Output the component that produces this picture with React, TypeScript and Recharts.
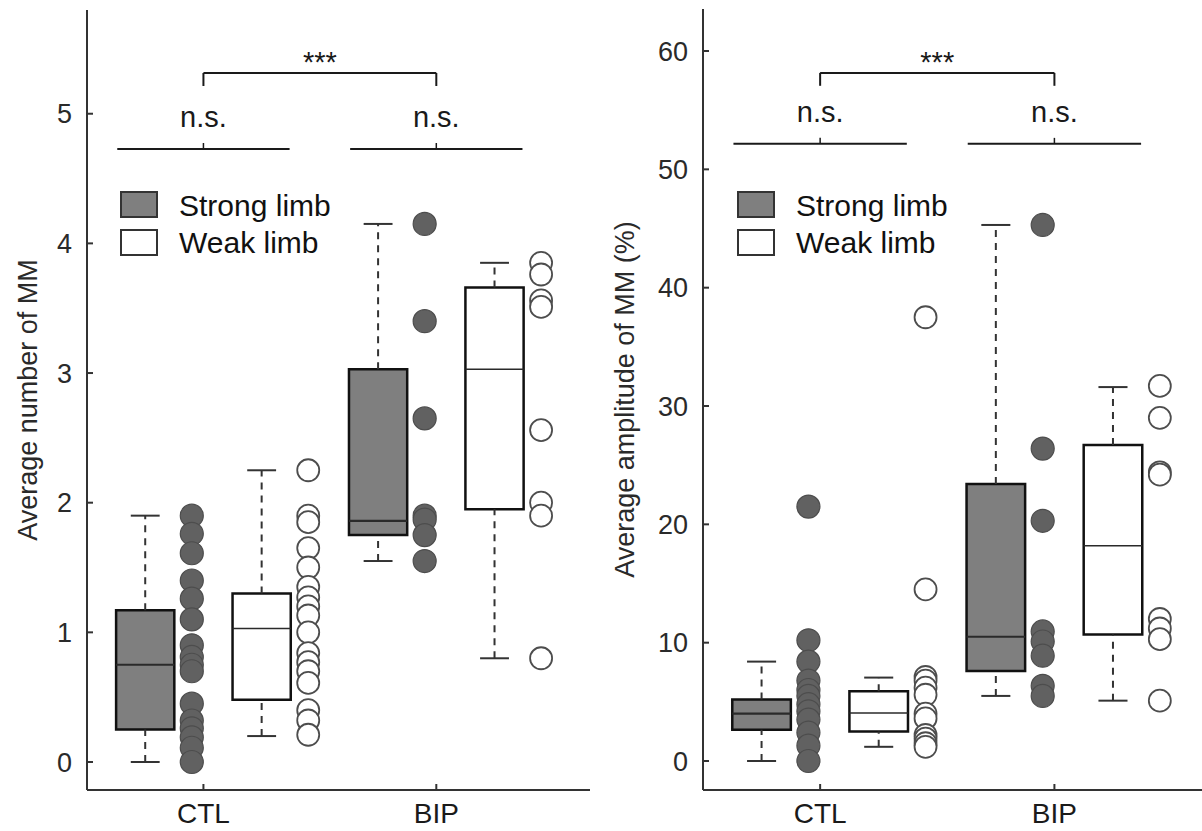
import React from 'react';
import {
  ComposedChart,
  Scatter,
  XAxis,
  YAxis,
  ReferenceArea,
  ReferenceLine,
} from 'recharts';

const FONT = '"Liberation Sans", Arial, Helvetica, sans-serif';
const INK = '#1a1a1a';
const AXIS = '#333333';

const groups = ['CTL', 'BIP'];

// box stats per group: [lower whisker, q1, median, q3, upper whisker]
const countStrongBox = [
  [0, 0.25, 0.75, 1.17, 1.9],
  [1.55, 1.75, 1.86, 3.03, 4.15],
];
const countWeakBox = [
  [0.2, 0.48, 1.03, 1.3, 2.25],
  [0.8, 1.95, 3.03, 3.66, 3.85],
];
const countStrongDots = [
  [1.9, 1.76, 1.61, 1.4, 1.26, 1.1, 0.9, 0.81, 0.75, 0.7, 0.45, 0.32, 0.26, 0.19, 0.11, 0],
  [4.15, 3.4, 2.65, 1.9, 1.87, 1.75, 1.55],
];
const countWeakDots = [
  [2.25, 1.9, 1.85, 1.65, 1.5, 1.35, 1.27, 1.2, 1.13, 1.0, 0.84, 0.77, 0.7, 0.61, 0.4, 0.32, 0.21],
  [3.85, 3.76, 3.56, 3.51, 2.56, 2.0, 1.9, 0.8],
];

const ampStrongBox = [
  [0, 2.65, 4.0, 5.2, 8.4],
  [5.5, 7.6, 10.5, 23.4, 45.3],
];
const ampWeakBox = [
  [1.2, 2.5, 4.05, 5.9, 7.05],
  [5.1, 10.7, 18.2, 26.7, 31.6],
];
const ampStrongDots = [
  [21.5, 10.2, 8.4, 6.8, 6.0, 5.5, 4.8, 4.2, 3.5, 2.4, 1.3, 0],
  [45.3, 26.4, 20.3, 10.95, 10.1, 8.9, 6.35, 5.5],
];
const ampWeakDots = [
  [37.5, 14.5, 7.1, 6.8, 6.2, 5.6, 4.0, 3.6, 2.2, 1.9, 1.5, 1.2],
  [31.7, 29.0, 24.4, 24.2, 12.0, 11.2, 10.3, 5.1],
];

const countTicks = [0, 1, 2, 3, 4, 5];
const ampTicks = [0, 10, 20, 30, 40, 50, 60];

const OFF = { strongBox: -0.25, strongDot: -0.05, weakBox: 0.25, weakDot: 0.45 };
const BOX_HALF = 0.125;
const CAP_HALF = 0.062;
const NS_HALF = 0.37;

type PanelProps = {
  left: number;
  width: number;
  top: number;
  yAxisWidth: number;
  yDomain: [number, number];
  xDomain: [number, number];
  yTicks: number[];
  yLabel: string;
  labelOffset: number;
  strongBox: number[][];
  weakBox: number[][];
  strongDots: number[][];
  weakDots: number[][];
  nsY: number;
  nsTickY: number;
  bracketY: number;
  bracketLegY: number;
};

const strongDot = (p: any) => (
  <circle cx={p.cx} cy={p.cy} r={11.5} fill="#616161" stroke="#4d4d4d" strokeWidth={1.2} />
);
const weakDot = (p: any) => (
  <circle cx={p.cx} cy={p.cy} r={11} fill="#ffffff" stroke="#4d4d4d" strokeWidth={1.8} />
);

function boxParts(stats: number[][], offset: number, fill: string, medianWidth: number, key: string) {
  const out: React.ReactNode[] = [];
  stats.forEach((s, g) => {
    const c = g + 1 + offset;
    const [lo, q1, med, q3, hi] = s;
    out.push(
      <ReferenceLine key={`${key}-wl${g}`} segment={[{ x: c, y: lo }, { x: c, y: q1 }]} stroke={AXIS} strokeWidth={2} strokeDasharray="7 6" />,
      <ReferenceLine key={`${key}-wh${g}`} segment={[{ x: c, y: q3 }, { x: c, y: hi }]} stroke={AXIS} strokeWidth={2} strokeDasharray="7 6" />,
      <ReferenceLine key={`${key}-cl${g}`} segment={[{ x: c - CAP_HALF, y: lo }, { x: c + CAP_HALF, y: lo }]} stroke={AXIS} strokeWidth={2} />,
      <ReferenceLine key={`${key}-ch${g}`} segment={[{ x: c - CAP_HALF, y: hi }, { x: c + CAP_HALF, y: hi }]} stroke={AXIS} strokeWidth={2} />,
      <ReferenceArea key={`${key}-b${g}`} x1={c - BOX_HALF} x2={c + BOX_HALF} y1={q1} y2={q3} fill={fill} fillOpacity={1} stroke="#111111" strokeWidth={2.5} />,
      <ReferenceLine key={`${key}-m${g}`} segment={[{ x: c - BOX_HALF, y: med }, { x: c + BOX_HALF, y: med }]} stroke="#2a2a2a" strokeWidth={medianWidth} />
    );
  });
  return out;
}

function Panel(p: PanelProps) {
  const sDots = p.strongDots.flatMap((vals, g) => vals.map((v) => ({ x: g + 1 + OFF.strongDot, y: v })));
  const wDots = p.weakDots.flatMap((vals, g) => vals.map((v) => ({ x: g + 1 + OFF.weakDot, y: v })));
  return (
    <div style={{ position: 'absolute', left: p.left, top: 0 }}>
      <ComposedChart width={p.width} height={831} margin={{ top: p.top, right: 0, bottom: 0, left: 0 }}>
        <XAxis
          type="number"
          dataKey="x"
          domain={p.xDomain}
          allowDataOverflow
          ticks={[1, 2]}
          tickFormatter={(v: number) => groups[v - 1]}
          height={41}
          tickSize={-6}
          tickMargin={19}
          stroke={AXIS}
          strokeWidth={2}
          tick={{ fontSize: 28, fill: INK, fontFamily: FONT }}
        />
        <YAxis
          type="number"
          dataKey="y"
          domain={p.yDomain}
          allowDataOverflow
          ticks={p.yTicks}
          width={p.yAxisWidth}
          tickSize={-6}
          tickMargin={21}
          stroke={AXIS}
          strokeWidth={2}
          tick={{ fontSize: 27, fill: '#2a2a2a', fontFamily: FONT }}
          label={{
            value: p.yLabel,
            angle: -90,
            position: 'insideLeft',
            offset: p.labelOffset,
            style: { textAnchor: 'middle', fontSize: 27, fill: '#2a2a2a', fontFamily: FONT },
          }}
        />
        {boxParts(p.strongBox, OFF.strongBox, '#7f7f7f', 2.2, 's')}
        {boxParts(p.weakBox, OFF.weakBox, '#ffffff', 1.5, 'w')}
        {[1, 2].map((c) => (
          <ReferenceLine
            key={`ns${c}`}
            segment={[{ x: c - NS_HALF, y: p.nsY }, { x: c + NS_HALF, y: p.nsY }]}
            stroke={INK}
            strokeWidth={2}
            label={{ value: 'n.s.', position: 'top', offset: 22, fontSize: 29, fill: INK, fontFamily: FONT }}
          />
        ))}
        {[1, 2].map((c) => (
          <ReferenceLine key={`nst${c}`} segment={[{ x: c, y: p.nsY }, { x: c, y: p.nsTickY }]} stroke={INK} strokeWidth={1.5} />
        ))}
        <ReferenceLine
          segment={[{ x: 1, y: p.bracketY }, { x: 2, y: p.bracketY }]}
          stroke={INK}
          strokeWidth={2}
          label={{ value: '***', position: 'top', offset: 1, fontSize: 29, fill: INK, fontFamily: FONT }}
        />
        <ReferenceLine segment={[{ x: 1, y: p.bracketY }, { x: 1, y: p.bracketLegY }]} stroke={INK} strokeWidth={2} />
        <ReferenceLine segment={[{ x: 2, y: p.bracketY }, { x: 2, y: p.bracketLegY }]} stroke={INK} strokeWidth={2} />
        <Scatter data={sDots} shape={strongDot} isAnimationActive={false} />
        <Scatter data={wDots} shape={weakDot} isAnimationActive={false} />
      </ComposedChart>
    </div>
  );
}

function LegendBox({ x, y }: { x: number; y: number }) {
  return (
    <g fontFamily={FONT} fontSize={30} fill="#111">
      <rect x={x} y={y} width={36} height={25} fill="#7f7f7f" stroke="#333" strokeWidth={2} />
      <text x={x + 58} y={y + 24}>Strong limb</text>
      <rect x={x} y={y + 38} width={36} height={25} fill="#ffffff" stroke="#333" strokeWidth={2} />
      <text x={x + 58} y={y + 61}>Weak limb</text>
    </g>
  );
}

export default function App() {
  return (
    <div style={{ position: 'absolute', left: 0, top: 0, width: 1202, height: 831, background: '#fff' }}>
      <Panel
        left={0}
        width={590}
        top={10}
        yAxisWidth={87}
        yDomain={[-0.216, 5.8]}
        xDomain={[0.5, 2.66]}
        yTicks={countTicks}
        yLabel="Average number of MM"
        labelOffset={27}
        strongBox={countStrongBox}
        weakBox={countWeakBox}
        strongDots={countStrongDots}
        weakDots={countWeakDots}
        nsY={4.728}
        nsTickY={4.774}
        bracketY={5.314}
        bracketLegY={5.214}
      />
      <Panel
        left={600}
        width={602}
        top={9}
        yAxisWidth={103}
        yDomain={[-2.45, 63.55]}
        xDomain={[0.5, 2.63]}
        yTicks={ampTicks}
        yLabel="Average amplitude of MM (%)"
        labelOffset={24}
        strongBox={ampStrongBox}
        weakBox={ampWeakBox}
        strongDots={ampStrongDots}
        weakDots={ampWeakDots}
        nsY={52.16}
        nsTickY={52.66}
        bracketY={58.15}
        bracketLegY={57.06}
      />
      <svg width={1202} height={831} style={{ position: 'absolute', left: 0, top: 0, pointerEvents: 'none' }}>
        <LegendBox x={121} y={192} />
        <LegendBox x={738} y={192} />
      </svg>
    </div>
  );
}
